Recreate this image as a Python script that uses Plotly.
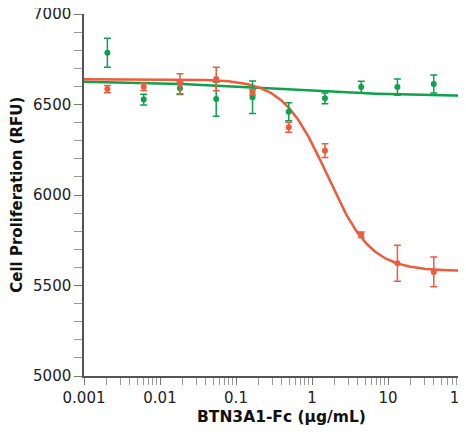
import numpy as np
import plotly.graph_objects as go

# Concentrations (µg/mL), 3-fold dilution series
conc = [0.00203, 0.0061, 0.0183, 0.0549, 0.165, 0.494, 1.48, 4.44, 13.3, 40.0]

# Red series (mean, error)
red_y = [6585, 6598, 6615, 6641, 6567, 6374, 6245, 5780, 5623, 5575]
red_err = [20, 20, 55, 65, 15, 28, 38, 15, 100, 82]

# Green series (mean, error)
green_y = [6786, 6527, 6590, 6530, 6540, 6460, 6534, 6597, 6596, 6613]
green_err = [80, 30, 35, 95, 90, 50, 30, 32, 45, 50]

# 4-parameter logistic fit parameters: [top, bottom, EC50, hill]
red_fit = [6640, 5580, 1.58, 1.5]
green_fit = [6630, 6545, 0.3, 0.5]

x_tick_vals = [0.001, 0.01, 0.1, 1, 10, 100]
x_tick_text = ["0.001", "0.01", "0.1", "1", "10", "100"]

RED = "#F05A3C"
GREEN = "#0EA24C"


def four_pl(x, p):
    top, bottom, ec50, h = p
    return bottom + (top - bottom) / (1 + (x / ec50) ** h)


xs = np.logspace(-3, 2, 300)

fig = go.Figure()

fig.add_trace(go.Scatter(x=xs, y=four_pl(xs, green_fit), mode="lines",
                         line=dict(color=GREEN, width=2.5), hoverinfo="skip"))
fig.add_trace(go.Scatter(x=xs, y=four_pl(xs, red_fit), mode="lines",
                         line=dict(color=RED, width=2.5), hoverinfo="skip"))

fig.add_trace(go.Scatter(x=conc, y=green_y, mode="markers",
                         marker=dict(color=GREEN, size=6),
                         error_y=dict(type="data", array=green_err, color=GREEN,
                                      thickness=1.5, width=3.5)))
fig.add_trace(go.Scatter(x=conc, y=red_y, mode="markers",
                         marker=dict(color=RED, size=6),
                         error_y=dict(type="data", array=red_err, color=RED,
                                      thickness=1.5, width=3.5)))

font_family = "DejaVu Sans, Arial, sans-serif"

# page body has an 8px default margin, so the figure is offset by 8px
fig.update_layout(
    width=458, height=428,
    margin=dict(l=76, r=2, t=6, b=60),
    paper_bgcolor="white", plot_bgcolor="white",
    showlegend=False,
    font=dict(family=font_family, size=15, color="#222"),
    annotations=[
        dict(text="<b>BTN3A1-Fc (µg/mL)</b>", xref="paper", yref="paper",
             x=0.52, y=-0.113, xanchor="center", yanchor="middle",
             showarrow=False, font=dict(size=15.5, color="#111")),
        dict(text="<b>Cell Proliferation (RFU)</b>", xref="paper", yref="paper",
             x=-0.177, y=0.5, xanchor="center", yanchor="middle", textangle=-90,
             showarrow=False, font=dict(size=15, color="#111")),
    ],
)

fig.update_xaxes(
    type="log", range=[-3, 2], automargin=False,
    tickvals=x_tick_vals, ticktext=x_tick_text,
    ticklabeloverflow="allow",
    showgrid=False, zeroline=False,
    showline=True, linecolor="#555", linewidth=1.5,
    ticks="outside", ticklen=7, tickcolor="#777", tickwidth=1,
    minor=dict(ticks="outside", ticklen=7, tickcolor="#999", dtick="D1", showgrid=False),
    tickfont=dict(size=15, color="#222"),
)

fig.update_yaxes(
    range=[5000, 7000], dtick=500, automargin=False,
    ticklabeloverflow="allow",
    showgrid=False, zeroline=False,
    showline=True, linecolor="#555", linewidth=1.5,
    ticks="outside", ticklen=8, tickcolor="#777", tickwidth=1,
    minor=dict(ticks="outside", ticklen=8, tickcolor="#999", dtick=100, showgrid=False),
    tickfont=dict(size=15, color="#222"),
)

fig.write_html("out.html")
